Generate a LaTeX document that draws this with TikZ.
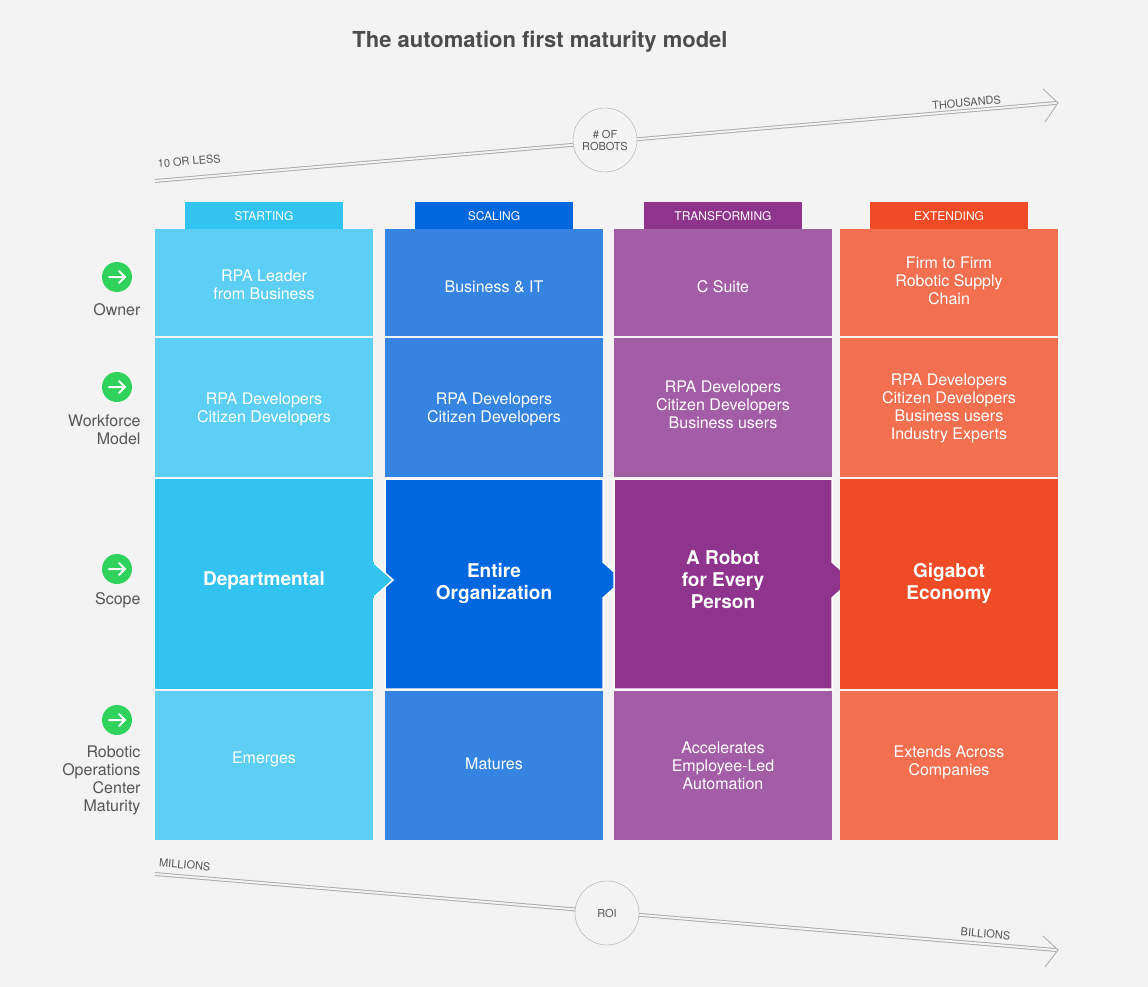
\documentclass[tikz,border=0pt]{standalone}
\usepackage{fontspec}
\setmainfont{TeX Gyre Heros}
\usetikzlibrary{positioning,calc}
\definecolor{bgc}{HTML}{F3F3F3}
\definecolor{lineg}{HTML}{A8A8A8}
\definecolor{txtg}{HTML}{555555}
\definecolor{stA}{HTML}{5DCFF5}\definecolor{stB}{HTML}{33C3F0}
\definecolor{scA}{HTML}{3584E1}\definecolor{scB}{HTML}{0167DE}
\definecolor{trA}{HTML}{A35DA6}\definecolor{trB}{HTML}{8E348D}
\definecolor{exA}{HTML}{F26F50}\definecolor{exB}{HTML}{EF4B26}
\definecolor{okgreen}{HTML}{2FD25A}
\tikzset{
  cell/.style={text=white,align=center,font=\fontsize{16}{18}\selectfont},
  big/.style={text=white,align=center,font=\fontsize{19}{22}\selectfont\bfseries},
  tab/.style={text=white,font=\fontsize{12}{14}\selectfont},
  rowlbl/.style={anchor=east,align=right,text=txtg,font=\fontsize{16}{18}\selectfont},
  axis/.style={lineg,double=bgc,double distance=2pt,line width=0.9pt},
  small/.style={text=txtg,font=\fontsize{11}{12}\selectfont}
}
\begin{document}
\begin{tikzpicture}[x=1pt,y=-1pt]
  \fill[bgc] (0,0) rectangle (1148,987);
  \node[font=\fontsize{22}{26}\selectfont\bfseries,text=txtg!90!black] (title) at (540,42) {The automation first maturity model};
  % top axis
  \coordinate (ta) at (155,181);
  \coordinate (tb) at (1056,103);
  \draw[axis] (ta) -- (tb);
  \draw[lineg,line width=0.8pt] (1043,89) -- (1058,103) -- (1045,122);
  \node[circle,draw=lineg,fill=bgc,minimum size=64pt,align=center,small] (robots) at (605,140) {\# OF\\ROBOTS};
  \node[small,rotate=5,anchor=south west] (lo) at (155,172) {10 OR LESS};
  \node[small,rotate=5,anchor=south east] (hi) at (1005,107) {THOUSANDS};
  % bottom axis
  \coordinate (ba) at (155,874);
  \coordinate (bb) at (1056,950);
  \draw[axis] (ba) -- (bb);
  \draw[lineg,line width=0.8pt] (1043,936) -- (1058,950) -- (1045,967);
  \node[circle,draw=lineg,fill=bgc,minimum size=64pt,small] (roi) at (607,913) {ROI};
  \node[small,rotate=-5,anchor=south west] (mil) at (155,870) {MILLIONS};
  \node[small,rotate=-5,anchor=south east] (bil) at (1013,944) {BILLIONS};
  % columns
  \foreach \x/\ca/\cb/\tname/\tl [count=\i] in
    {155/stA/stB/STARTING/st, 385/scA/scB/SCALING/sc, 614/trA/trB/TRANSFORMING/tr, 840/exA/exB/EXTENDING/ex}{
    \fill[\cb] (\x+30,202) rectangle (\x+188,229);
    \node[tab] (\tl-tab) at (\x+109,216) {\tname};
    \fill[\ca] (\x,229) rectangle (\x+218,336);
    \fill[\ca] (\x,338) rectangle (\x+218,477);
    \fill[\ca] (\x,691) rectangle (\x+218,840);
  }
  % scope row with arrow notches
  \foreach \x/\cb/\last in {155/stB/0, 385/scB/0, 614/trB/0, 840/exB/1}{
    \ifnum\last=0
      \fill[\cb,draw=white,line width=1.5pt] (\x,479) -- (\x+218,479) -- (\x+218,562) -- (\x+238,580) -- (\x+218,598) -- (\x+218,689) -- (\x,689) -- cycle;
    \else
      \fill[\cb] (\x,479) rectangle (\x+218,689);
    \fi
  }
  \fill[stB] (155,479) rectangle (373,689);
  \fill[stB,draw=white,line width=1.5pt] (373,562) -- (393,580) -- (373,598);
  \fill[stB] (371,562) rectangle (373.5,598);
  % texts
  \node[cell] (st-own) at (264,285) {RPA Leader\\from Business};
  \node[cell] (sc-own) at (494,287) {Business \& IT};
  \node[cell] (tr-own) at (723,287) {C Suite};
  \node[cell] (ex-own) at (949,281) {Firm to Firm\\Robotic Supply\\Chain};
  \node[cell] (st-wf) at (264,409) {RPA Developers\\Citizen Developers};
  \node[cell] (sc-wf) at (494,409) {RPA Developers\\Citizen Developers};
  \node[cell] (tr-wf) at (723,405) {RPA Developers\\Citizen Developers\\Business users};
  \node[cell] (ex-wf) at (949,408) {RPA Developers\\Citizen Developers\\Business users\\Industry Experts};
  \node[big] (st-sc) at (264,581) {Departmental};
  \node[big] (sc-sc) at (494,583) {Entire\\Organization};
  \node[big] (tr-sc) at (723,580) {A Robot\\for Every\\Person};
  \node[big] (ex-sc) at (949,583) {Gigabot\\Economy};
  \node[cell] (st-roc) at (264,759) {Emerges};
  \node[cell] (sc-roc) at (494,764) {Matures};
  \node[cell] (tr-roc) at (723,766) {Accelerates\\Employee-Led\\Automation};
  \node[cell] (ex-roc) at (949,762) {Extends Across\\Companies};
  % row labels
  \foreach \y/\yl/\txt/\nm in {277/310/Owner/own, 387/430/Workforce\\Model/wf, 569/600/Scope/sc, 720/780/Robotic\\Operations\\Center\\Maturity/roc}{
    \fill[okgreen] (117,\y) circle (15);
    \draw[white,line width=2pt,line cap=round] (109,\y) -- (125,\y) (119,\y-6) -- (125,\y) -- (119,\y+6);
    \node[rowlbl] (lbl-\nm) at (144,\yl) {\txt};
  }
\end{tikzpicture}
\end{document}
